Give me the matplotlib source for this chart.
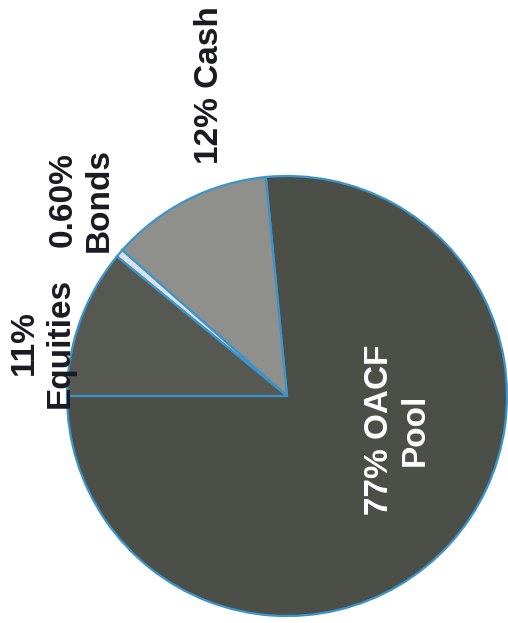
import matplotlib
matplotlib.use("Agg")
import matplotlib.pyplot as plt

# Asset allocation (scanned chart, rotated on the page)
labels = ['77% OACF\nPool', '12% Cash', '0.60%\nBonds', '11%\nEquities']
sizes = [77, 12, 0.6, 11]
colors = ['#4c4f48', '#8f8f8b', '#dde1e1', '#565952']

fig = plt.figure(figsize=(5.08, 6.23), dpi=100)
ax = fig.add_axes([0, 0, 1, 1])

# pixel-like coordinates, y measured from the bottom
H = 623
ax.pie(sizes, colors=colors, startangle=180, counterclock=True,
       center=(287, H - 396), radius=220,
       wedgeprops=dict(edgecolor='#3b95cc', linewidth=1.6))
ax.set_xlim(0, 508)
ax.set_ylim(0, H)
ax.set_aspect('equal')
ax.axis('off')

font = dict(family='Liberation Sans', fontweight='bold', fontsize=24,
            rotation=90, ha='center', va='center', linespacing=1.2)

# label positions (pixel centres in the reference)
ax.text(397, H - 430, labels[0], color='white', **font)
ax.text(210, H - 85, labels[1], color='#1a1a22', **font)
ax.text(81, H - 200, labels[2], color='#1a1a22', **font)
ax.text(42, H - 343, labels[3], color='#1a1a22', **font)

plt.savefig('out.png', dpi=100)
